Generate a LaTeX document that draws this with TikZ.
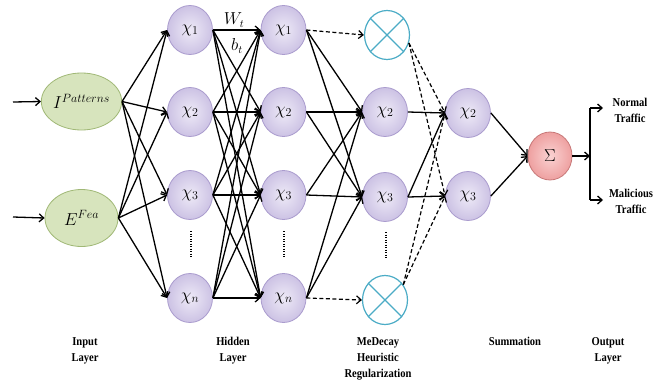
\documentclass[tikz,border=0pt]{standalone}
\usepackage{fontspec}
\setmainfont{Liberation Serif}
\newfontfamily\lblfont[FakeStretch=0.88]{Liberation Serif}
\usetikzlibrary{arrows.meta,shapes.geometric}
\definecolor{purpin}{RGB}{238,234,247}
\definecolor{purpout}{RGB}{204,194,228}
\definecolor{purpline}{RGB}{170,156,206}
\definecolor{grnfill}{RGB}{215,228,189}
\definecolor{grnline}{RGB}{160,184,118}
\definecolor{teal}{RGB}{75,172,198}
\definecolor{pinkin}{RGB}{250,210,210}
\definecolor{pinkout}{RGB}{238,160,160}
\definecolor{pinkline}{RGB}{200,120,120}
\begin{document}
\begin{tikzpicture}[x=1pt,y=-1pt,
  neuron/.style={ellipse, minimum width=45pt, minimum height=49pt, inner sep=0pt,
    draw=purpline, line width=0.8pt, inner color=purpin, outer color=purpout,
    font=\fontsize{18}{20}\selectfont},
  inp/.style={ellipse, minimum width=73pt, minimum height=57pt, inner sep=0pt,
    draw=grnline, line width=0.8pt, fill=grnfill, font=\fontsize{17}{19}\selectfont},
  crossn/.style={ellipse, minimum width=45pt, minimum height=49pt, inner sep=0pt,
    draw=teal, line width=1.2pt, fill=white},
  sumn/.style={ellipse, minimum width=44pt, minimum height=48pt, inner sep=0pt,
    draw=pinkline, line width=0.8pt, inner color=pinkin, outer color=pinkout,
    font=\fontsize{17}{19}\selectfont},
  conn/.style={line width=1.3pt, -{Straight Barb[length=4.5pt,width=8pt]}},
  plain/.style={line width=1.3pt},
  dconn/.style={line width=1.2pt, dash pattern=on 4pt off 2.5pt, -{Straight Barb[length=4.5pt,width=8pt]}},
  dotv/.style={line width=1.4pt, dash pattern=on 1.2pt off 1.3pt},
  lbl/.style={align=center, font=\lblfont\bfseries\fontsize{12}{16}\selectfont},
  wlbl/.style={font=\fontsize{16}{18}\selectfont}]
\path[use as bounding box, fill=white] (0,0) rectangle (666,383);

% input layer
\node[inp] (i1) at (81.5,101.5) {$I^{Patterns}$};
\node[inp] (i2) at (81.5,218) {$E^{Fea}$};
\coordinate (s1) at (13,102);
\coordinate (s2) at (13,217);
\draw[conn] (s1) -- (i1.west);
\draw[conn] (s2) -- (i2.west);

% hidden layer 1
\node[neuron] (a1) at (190,30) {$\chi_1$};
\node[neuron] (a2) at (190,112) {$\chi_2$};
\node[neuron] (a3) at (190,195) {$\chi_3$};
\node[neuron] (a4) at (190,298) {$\chi_n$};
% hidden layer 2
\node[neuron] (b1) at (283.5,30) {$\chi_1$};
\node[neuron] (b2) at (283.5,112) {$\chi_2$};
\node[neuron] (b3) at (283.5,195) {$\chi_3$};
\node[neuron] (b4) at (283.5,298) {$\chi_n$};
% MeDecay layer
\node[crossn] (c1) at (387,35) {};
\node[neuron] (c2) at (385,112) {$\chi_2$};
\node[neuron] (c3) at (385,197) {$\chi_3$};
\node[crossn] (c4) at (385,300) {};
\draw[teal, line width=1.2pt] (c1.45) -- (c1.225) (c1.135) -- (c1.-45);
\draw[teal, line width=1.2pt] (c4.45) -- (c4.225) (c4.135) -- (c4.-45);
% summation layer
\node[neuron] (d2) at (468,113) {$\chi_2$};
\node[neuron] (d3) at (468,196) {$\chi_3$};
\node[sumn] (sg) at (550,156) {$\Sigma$};

% dotted separators
\coordinate (p1) at (191,231); \coordinate (q1) at (191,258);
\coordinate (p2) at (284,231); \coordinate (q2) at (284,258);
\coordinate (p3) at (386,232); \coordinate (q3) at (386,258);
\draw[dotv] (p1) -- (q1);
\draw[dotv] (p2) -- (q2);
\draw[dotv] (p3) -- (q3);

% input -> hidden 1
\foreach \s in {i1,i2}{
  \foreach \t in {a1,a2,a3,a4}{
    \draw[conn] (\s.east) -- (\t.west);
  }
}
% hidden 1 -> hidden 2
\foreach \s in {a1,a2,a3,a4}{
  \foreach \t in {b1,b2,b3,b4}{
    \draw[conn] (\s.east) -- (\t.west);
  }
}
\node[wlbl] (wt) at (234,20) {$W_t$};
\node[wlbl] (bt) at (237,46) {$b_t$};

% hidden 2 -> MeDecay
\draw[dconn] (b1.east) -- (c1.west);
\draw[dconn] (b4.east) -- (c4.west);
\foreach \s in {b1,b2,b3,b4}{
  \foreach \t in {c2,c3}{
    \draw[conn] (\s.east) -- (\t.west);
  }
}
% MeDecay -> summation
\draw[conn] (c2.east) -- (d2.west);
\draw[conn] (c3.east) -- (d2.west);
\draw[conn] (c3.east) -- (d3.west);
\draw[dconn] (c1.-20) -- (d2.west);
\draw[dconn] (c1.-20) -- (d3.west);
\draw[dconn] (c4.40) -- (d2.west);
\draw[dconn] (c4.40) -- (d3.west);
% summation -> sigma
\draw[conn] (d2.east) -- (sg.west);
\draw[conn] (d3.east) -- (sg.west);

% output
\coordinate (sp) at (590,156);
\coordinate (spt) at (590,108);
\coordinate (spb) at (590,200);
\coordinate (o1) at (603,108);
\coordinate (o2) at (603,200);
\draw[conn] (sg.east) -- (sp);
\draw[plain] (spt) -- (spb);
\draw[conn] (spt) -- (o1);
\draw[conn] (spb) -- (o2);
\node[lbl] (nt) at (630,110) {Normal\\Traffic};
\node[lbl] (mt) at (631,201) {Malicious\\Traffic};

% bottom labels
\node[lbl] (l1) at (85,351) {Input\\Layer};
\node[lbl] (l2) at (233,351) {Hidden\\Layer};
\node[lbl] (l3) at (378,359) {MeDecay\\Heuristic\\Regularization};
\node[lbl] (l4) at (515,341) {Summation};
\node[lbl] (l5) at (608,351) {Output\\Layer};
\end{tikzpicture}
\end{document}
